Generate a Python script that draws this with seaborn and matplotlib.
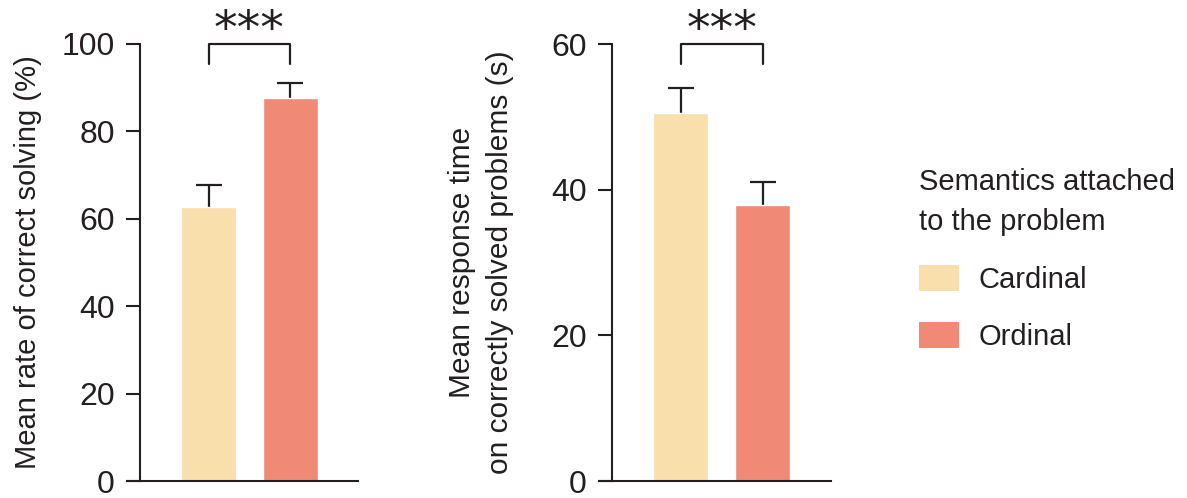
import pandas as pd
import matplotlib
import matplotlib.pyplot as plt
import seaborn as sns
from matplotlib.patches import Patch

matplotlib.use('Agg')

# data
semantics = ['Cardinal', 'Ordinal']
correct_rate = [62.7, 87.6]
correct_rate_err = [5.0, 3.4]
response_time = [50.5, 37.9]
response_time_err = [3.4, 3.1]

colors = {'Cardinal': '#f9dfab', 'Ordinal': '#f08a77'}
ink = '#231f20'

sns.set_theme(style='ticks')
plt.rcParams['font.family'] = ['Liberation Sans', 'DejaVu Sans']
plt.rcParams.update({
    'axes.edgecolor': ink,
    'axes.linewidth': 1.5,
    'xtick.color': ink,
    'ytick.color': ink,
    'text.color': ink,
    'axes.labelcolor': ink,
})

fig = plt.figure(figsize=(11.87, 4.98), dpi=100)
ax1 = fig.add_axes([140 / 1187, 17 / 498, 218 / 1187, 437 / 498])
ax2 = fig.add_axes([612 / 1187, 17 / 498, 219 / 1187, 437 / 498])


def draw_panel(ax, values, errs, ymax, yticks, ylabel, bracket_low,
               label_size, label_pad):
    df = pd.DataFrame({'semantics': semantics, 'value': values})
    sns.barplot(data=df, x='semantics', y='value', hue='semantics',
                palette=colors, saturation=1, width=0.67, errorbar=None,
                legend=False, ax=ax)
    # error bars drawn below the bars, so only the upper half shows
    ax.errorbar(range(len(values)), values, yerr=errs, fmt='none',
                ecolor=ink, elinewidth=1.6, capsize=9.5, capthick=1.6,
                zorder=0.5)
    ax.set_xlim(-0.84, 1.83)
    ax.set_ylim(0, ymax)
    ax.set_yticks(yticks)
    ax.set_xticks([])
    ax.set_xlabel('')
    ax.set_ylabel(ylabel, fontsize=label_size, labelpad=label_pad,
                  linespacing=1.45)
    ax.tick_params(axis='y', length=10, width=1.5, pad=8, labelsize=23)
    sns.despine(ax=ax)
    # bottom line runs out under the y tick marks
    ax.plot([-14 / 218, 0], [0, 0], transform=ax.transAxes, color=ink,
            lw=1.5, clip_on=False, solid_capstyle='butt')
    # significance bracket
    ax.plot([0, 0, 1, 1], [bracket_low, ymax, ymax, bracket_low], color=ink,
            lw=1.6, clip_on=False)
    ax.annotate('***', xy=(0.5, ymax), xytext=(0, 1), textcoords='offset points',
                ha='center', va='baseline', fontsize=34, fontfamily='DejaVu Sans',
                annotation_clip=False)


draw_panel(ax1, correct_rate, correct_rate_err, 100, [0, 20, 40, 60, 80, 100],
           'Mean rate of correct solving (%)', 95.4, 21, 14)
draw_panel(ax2, response_time, response_time_err, 60, [0, 20, 40, 60],
           'Mean response time\non correctly solved problems (s)', 57.2, 21.5, 27)

handles = [Patch(facecolor=colors[s], edgecolor='none', label=s) for s in semantics]
leg = fig.legend(handles=handles, title='Semantics attached\nto the problem',
                 loc='upper left', bbox_to_anchor=(919 / 1187, 1 - 168 / 498),
                 frameon=False, fontsize=21, title_fontsize=21, alignment='left',
                 handlelength=1.38, handleheight=1.0, handletextpad=0.65,
                 labelspacing=0.98, borderpad=0, borderaxespad=0)
leg.get_title().set_linespacing(1.55)

fig.savefig('out.png', dpi=100)
